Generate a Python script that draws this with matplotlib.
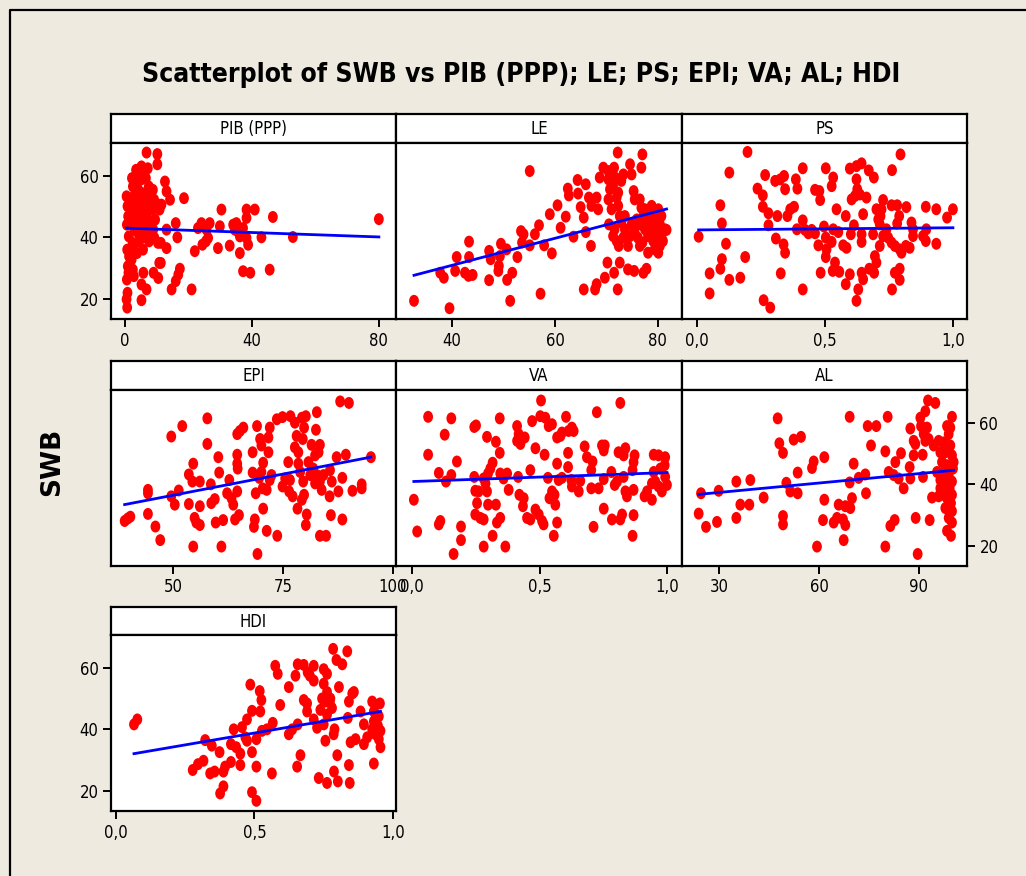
import matplotlib
matplotlib.use("Agg")
import matplotlib.pyplot as plt
import numpy as np
from matplotlib.path import Path
from matplotlib.lines import Line2D

plt.rcParams['font.family'] = ['DejaVu Sans']
plt.rcParams['font.stretch'] = 'condensed'

# ---------------- data ----------------
panel_titles = ["PIB (PPP)", "LE", "PS", "EPI", "VA", "AL", "HDI"]

pib_x = [0.5,0.8,1.0,0.6,1.2,0.7,1.3,0.9,1.1,0.6,0.8,0.5,0.7,
         2.2,2.5,2.8,2.0,2.6,2.3,2.9,2.4,2.7,2.1,2.5,2.8,
         3.5,4.0,3.8,4.2,3.6,4.4,3.9,4.1,3.7,4.3,3.8,
         5.2,5.5,5.0,5.8,5.3,5.6,5.1,5.9,5.4,5.7,5.8,5.2,5.2,
         6.8,7.2,6.6,7.5,7.0,7.8,6.9,7.4,7.1,7.6,6.8,
         8.8,9.2,8.6,9.5,8.9,9.3,9.0,
         10.2,10.2,10.6,10.9,10.4,10.8,10.5,
         12.6,13.1,14.2,11.5,13.1,13.1,11.3,11.3,
         14.7,16.0,16.5,17.3,16.8,16.0,18.6,21.0,
         22.0,23.0,24.1,24.4,25.7,26.7,26.2,25.5,29.3,29.9,30.4,
         33.0,34.1,35.1,34.6,35.6,37.2,36.2,38.3,38.8,36.2,37.2,39.5,38.3,38.3,
         40.9,43.0,46.6,45.6,52.9,80.0]
pib_y = [53.3,50.1,46.8,44.1,40.3,36.0,33.8,30.6,28.5,26.3,22.0,19.9,17.2,
         59.2,56.5,53.3,51.1,49.0,45.7,43.0,38.2,36.0,32.8,29.5,27.4,
         61.9,60.3,58.1,55.4,52.2,49.5,46.8,43.6,41.9,38.7,34.9,
         63.0,60.8,58.7,54.3,51.1,47.9,44.6,42.5,39.8,36.0,28.5,24.7,19.6,
         67.5,62.4,59.2,56.5,53.3,50.1,46.8,44.1,41.4,38.7,23.1,
         55.4,52.2,49.0,45.7,42.5,39.8,28.5,
         67.0,63.7,50.6,49.0,38.2,31.7,26.8,
         58.1,54.9,52.2,50.6,42.5,36.5,38.2,31.7,
         23.1,44.6,40.0,29.8,27.9,25.8,52.7,23.1,
         35.5,43.0,44.6,37.6,42.5,44.6,39.8,38.7,36.5,43.6,49.0,
         37.3,44.1,44.6,42.5,41.9,43.0,40.3,39.8,37.6,34.9,29.0,28.5,49.0,46.3,
         49.0,40.0,46.6,29.5,40.1,45.9]

le_x = [75.9,76.5,77.2,77.5,77.8,78.1,78.4,78.8,79.1,79.4,79.7,80.1,80.4,80.7,81.0,
        80.4,79.4,78.1,78.8,80.1,77.5,77.0,76.5,75.5,76.1,81.4,81.7,80.1,79.1,80.7,
        70.5,71.6,72.0,72.4,72.9,73.6,73.3,74.2,74.6,74.9,71.3,73.6,
        68.7,69.4,70.4,71.5,71.7,72.2,70.4,70.7,70.4,71.0,72.3,72.3,72.6,72.9,73.3,
        74.6,74.9,76.8,77.0,75.3,75.5,76.5,76.8,71.3,72.0,
        74.2,75.4,77.2,77.8,70.2,69.7,71.5,72.2,72.6,67.8,68.1,65.6,67.0,
        66.6,67.1,68.1,68.4,64.4,64.5,65.0,66.0,65.6,66.0,62.5,62.7,63.6,62.1,
        61.1,60.5,59.0,59.4,57.9,57.2,56.1,56.9,55.1,55.1,53.4,53.9,53.6,52.7,
        51.3,51.7,50.7,50.6,49.5,49.3,49.1,49.0,47.2,47.5,47.2,44.0,43.2,42.5,
        43.3,43.3,40.9,40.6,38.4,37.7,39.5,32.6]
le_y = [45.8,44.2,46.9,42.6,45.3,40.4,47.5,43.7,38.8,45.8,41.5,37.7,44.2,40.4,38.8,
        37.2,36.1,35.0,50.2,49.1,49.1,38.3,37.2,41.5,39.9,42.6,42.4,35.0,42.6,46.9,
        44.2,42.6,38.8,37.2,44.8,42.6,39.9,37.2,40.4,44.2,40.4,46.9,
        59.4,62.6,61.5,62.6,59.4,67.5,58.8,55.6,52.3,49.1,54.5,50.2,46.9,58.3,60.4,
        63.7,60.4,62.6,66.9,55.0,52.3,52.3,49.6,56.6,52.9,
        29.6,29.1,28.5,29.8,31.8,26.9,28.5,23.1,31.8,23.1,24.8,23.1,37.2,
        52.9,50.2,52.9,49.1,58.6,54.2,49.8,57.2,46.4,41.7,55.8,53.6,40.2,46.7,
        43.1,50.4,47.5,34.8,37.4,21.7,41.0,43.9,37.4,61.5,42.0,41.0,38.3,33.6,
        19.4,28.5,26.2,36.1,37.9,33.9,30.7,29.1,26.1,32.9,35.6,27.8,27.5,28.5,
        33.6,38.6,33.6,29.1,26.9,28.5,17.0,19.4]

ps_x = [0.006,0.049,0.049,0.091,0.097,0.113,0.097,0.091,0.126,0.126,0.169,0.188,0.197,
        0.236,0.257,0.257,0.266,0.279,0.279,0.26,0.286,0.308,0.305,0.325,0.34,0.344,
        0.314,0.338,0.344,0.327,0.353,0.364,0.379,0.386,0.392,0.413,0.39,0.413,0.422,
        0.435,0.448,0.461,0.413,0.461,0.478,0.481,0.474,0.483,0.496,0.503,0.506,0.503,
        0.503,0.532,0.526,0.545,0.532,0.552,0.526,0.539,0.53,0.556,0.581,0.571,0.584,
        0.597,0.623,0.643,0.623,0.626,0.617,0.604,0.636,0.662,0.613,0.601,0.643,0.643,
        0.581,0.597,0.63,0.623,0.649,0.643,0.649,0.671,0.691,0.673,0.692,0.688,0.695,
        0.701,0.714,0.717,0.721,0.701,0.727,0.714,0.727,0.747,0.762,0.795,0.76,0.782,
        0.818,0.79,0.782,0.76,0.773,0.792,0.799,0.816,0.831,0.762,0.773,0.792,0.792,
        0.844,0.844,0.838,0.894,0.883,0.894,0.896,0.935,0.935,0.977,1.0,0.74,0.708]
ps_y = [40.2,28.3,21.8,50.4,44.5,37.9,32.9,29.8,61.0,26.2,26.9,33.6,67.7,
        55.8,53.6,49.9,60.2,47.8,43.9,19.6,17.2,39.6,58.3,58.8,59.9,55.6,
        46.9,37.7,35.0,28.3,46.9,49.1,49.9,58.8,55.8,62.4,42.6,45.5,42.4,
        41.3,42.4,41.3,23.1,55.4,55.0,52.1,37.4,28.5,43.5,39.9,36.1,33.6,
        62.4,59.4,56.6,49.1,42.6,41.7,38.5,31.8,29.1,28.8,46.9,37.4,36.6,
        62.3,63.1,64.0,58.8,55.6,53.4,52.3,53.9,52.9,43.9,41.0,41.0,38.5,
        24.8,28.0,23.1,19.4,47.5,28.5,26.4,61.7,59.4,29.8,28.5,41.0,33.9,
        31.8,44.2,46.9,49.1,49.1,52.1,37.2,40.4,39.9,61.8,66.9,50.4,50.4,
        49.8,46.9,44.5,38.3,37.2,36.1,35.0,37.2,36.6,23.1,28.5,29.8,26.2,
        42.6,40.4,44.8,49.9,40.4,38.8,42.6,49.1,37.9,46.4,49.1,42.6,45.8]

epi_x = [39.0,39.7,40.3,44.3,44.3,44.3,46.0,47.1,49.6,49.6,50.4,51.3,52.1,53.6,53.6,
         54.6,54.4,54.6,54.9,55.3,56.1,56.1,56.1,57.8,57.8,58.6,58.7,59.5,59.7,60.3,
         60.5,61.0,61.4,62.8,62.3,63.3,63.7,64.1,65.0,64.6,65.2,66.0,64.6,64.6,64.7,
         64.6,68.1,68.1,69.1,68.8,68.6,68.4,69.2,69.8,70.1,70.5,70.1,69.6,70.5,71.3,
         70.4,71.3,71.7,71.7,72.0,72.4,72.0,73.6,74.9,76.7,73.7,74.9,75.5,76.2,76.6,
         76.4,77.2,77.7,78.1,77.7,78.5,79.3,80.2,79.8,79.5,78.5,78.9,79.3,79.8,78.3,
         79.6,80.4,80.2,82.7,82.5,81.5,82.3,83.1,83.4,81.9,82.7,83.4,84.2,85.7,86.1,
         82.3,83.8,85.6,83.4,84.8,85.9,87.2,87.6,88.0,90.0,88.5,88.5,89.3,90.8,92.9,
         92.9,95.0,80.8,81.2]
epi_y = [28.1,28.9,29.5,38.2,37.1,30.4,26.3,21.9,55.5,36.1,33.4,38.0,58.9,33.6,43.2,
         46.7,40.9,19.8,29.1,27.6,26.8,32.9,40.9,61.4,53.1,40.0,33.9,35.2,27.6,48.8,
         43.8,19.8,28.4,41.4,37.1,35.5,33.4,28.6,30.0,56.3,57.3,58.4,49.6,46.7,45.1,
         37.7,50.4,43.8,58.9,37.1,28.6,26.2,17.4,54.7,52.6,47.0,44.0,42.1,32.1,24.9,
         38.7,38.2,55.2,50.4,58.4,43.0,41.4,61.1,61.8,62.1,23.3,39.3,41.9,47.2,41.4,
         37.7,36.1,60.0,55.7,52.0,50.4,61.6,62.1,58.4,54.7,46.7,44.0,35.0,36.6,32.1,
         40.9,30.2,26.8,63.4,57.7,52.8,49.4,50.4,52.8,45.1,43.0,40.9,43.0,44.6,40.9,
         40.3,38.2,36.1,23.3,23.3,30.0,48.8,37.7,66.9,66.4,42.1,28.6,49.6,37.9,40.0,
         38.7,48.8,47.2,43.0]

va_x = [0.007,0.02,0.063,0.063,0.105,0.111,0.105,0.128,0.133,0.154,0.154,0.163,0.176,
        0.192,0.192,0.244,0.251,0.244,0.248,0.255,0.248,0.261,0.268,0.281,0.281,0.281,
        0.288,0.298,0.307,0.316,0.294,0.298,0.294,0.316,0.329,0.329,0.333,0.346,0.344,
        0.344,0.346,0.359,0.373,0.379,0.366,0.412,0.418,0.412,0.431,0.442,0.425,0.416,
        0.421,0.438,0.435,0.451,0.464,0.484,0.497,0.51,0.516,0.464,0.471,0.484,0.506,
        0.503,0.523,0.536,0.549,0.52,0.533,0.539,0.549,0.562,0.559,0.556,0.569,0.569,
        0.582,0.588,0.604,0.569,0.575,0.588,0.614,0.627,0.634,0.612,0.612,0.625,0.627,
        0.654,0.66,0.677,0.686,0.708,0.703,0.703,0.732,0.712,0.725,0.745,0.756,0.752,
        0.752,0.752,0.782,0.784,0.795,0.804,0.817,0.81,0.837,0.83,0.83,0.837,0.843,
        0.869,0.824,0.817,0.865,0.869,0.869,0.873,0.865,0.912,0.922,0.941,0.948,0.967,
        0.993,0.991,0.948,0.954,0.967,0.98,0.993,1.0,0.941,0.974]
va_y = [35.0,24.7,61.9,49.6,43.7,28.1,27.0,56.1,40.9,43.0,61.4,17.4,47.4,
        26.3,21.9,58.6,59.1,42.4,37.9,33.9,30.2,37.7,29.1,28.6,19.8,41.9,
        40.3,43.5,45.1,47.0,55.4,33.4,37.7,23.3,53.8,33.4,27.6,29.1,61.4,
        50.2,43.5,41.9,43.5,38.2,19.8,58.9,56.3,54.1,54.7,55.2,53.1,42.4,
        36.6,35.5,32.9,29.1,28.6,31.8,30.2,28.1,27.0,44.6,60.5,51.7,67.2,
        62.1,61.6,58.9,59.5,49.6,42.1,35.5,37.7,33.4,36.6,23.3,27.6,55.2,
        55.7,56.8,61.9,46.7,41.4,42.1,57.3,58.4,57.3,50.2,45.6,41.4,39.3,
        37.7,41.1,52.3,48.8,47.4,44.6,38.7,38.7,26.2,63.4,52.6,52.6,51.0,
        41.7,32.1,44.0,28.6,39.8,40.9,66.4,50.4,51.7,49.4,42.4,37.7,36.1,
        38.2,30.2,28.6,23.3,30.0,47.2,49.4,44.6,36.1,37.7,35.0,49.6,49.4,
        48.8,46.2,44.0,40.9,39.3,37.7,42.4,39.8,40.3,45.1]

al_x = [23.9,24.6,26.1,29.4,29.9,35.2,35.2,36.4,39.1,39.4,43.4,47.6,48.1,49.2,49.2,
        49.2,50.2,51.4,53.6,52.4,54.6,53.6,57.9,58.4,59.4,61.2,61.6,61.6,64.4,65.4,
        67.2,67.9,65.9,67.9,69.4,69.9,67.4,69.2,69.2,70.4,71.9,73.9,74.1,74.6,77.2,
        75.6,79.9,79.9,80.6,80.9,82.9,82.4,83.9,85.4,81.4,82.7,84.6,87.4,88.4,88.9,
        87.2,87.4,88.4,89.0,89.6,90.4,91.9,92.7,94.9,90.6,91.4,92.4,92.9,91.9,91.1,
        91.2,93.2,93.9,94.4,95.9,96.4,
        99.9,98.4,99.4,98.9,97.4,99.4,97.9,99.9,96.9,98.4,100.2,97.4,98.9,96.4,99.9,
        97.9,99.2,96.9,99.9,98.4,95.9,99.6,97.9,99.9,98.9,99.9,98.4,99.6,95.4,97.4,
        100.4,96.4]
al_y = [30.5,37.1,26.2,27.8,37.9,40.9,29.1,33.4,33.4,41.4,35.7,61.4,53.3,50.2,29.7,
        27.0,40.5,37.7,37.1,54.5,55.4,43.8,45.3,47.4,19.8,28.4,48.8,35.0,27.6,29.1,
        28.6,26.8,33.4,32.9,32.3,35.5,21.9,61.9,40.6,46.7,42.1,43.2,37.1,58.9,58.9,
        52.6,50.7,19.8,61.9,44.0,47.2,43.0,41.9,38.7,26.5,28.4,50.1,58.1,54.1,53.1,
        45.6,41.9,49.4,29.1,17.4,61.6,63.7,67.2,66.4,58.9,56.3,58.4,54.7,54.1,49.6,
        42.4,28.4,35.7,52.6,54.1,50.4,
        61.9,58.9,58.4,56.3,53.6,52.6,50.4,49.4,47.2,46.2,45.1,44.0,43.0,41.4,40.9,
        39.8,38.7,37.7,36.6,35.5,36.1,33.9,32.3,31.3,29.1,27.6,24.9,23.3,44.0,36.6,
        47.2,38.7]

hdi_x = [0.065,0.077,0.277,0.296,0.316,0.322,0.34,0.356,0.346,0.374,0.376,0.388,0.388,
         0.394,0.415,0.425,0.415,0.434,0.449,0.449,0.455,0.473,0.467,0.473,0.485,0.491,
         0.491,0.491,0.507,0.507,0.507,0.519,0.525,0.521,0.527,0.545,0.563,0.566,0.575,
         0.584,0.593,0.624,0.624,0.636,0.648,0.654,0.656,0.656,0.678,0.666,0.678,0.69,
         0.69,0.692,0.70,0.714,0.714,0.714,0.726,0.732,0.738,0.744,0.75,0.762,0.75,
         0.762,0.756,0.762,0.756,0.762,0.774,0.78,0.786,0.789,0.784,0.787,0.796,0.817,
         0.799,0.801,0.805,0.835,0.837,0.841,0.853,0.859,0.841,0.844,0.847,0.865,0.883,
         0.895,0.895,0.907,0.931,0.925,0.937,0.953,0.931,0.949,0.931,0.946,0.955,0.937,
         0.949,0.955,0.925,0.772,0.75]
hdi_y = [41.6,43.2,26.8,28.7,29.8,36.5,25.7,26.3,34.7,32.6,19.2,21.5,26.3,
         27.9,29.4,40.0,35.2,34.2,32.1,28.4,40.7,43.2,37.4,36.3,54.5,46.0,
         32.6,19.6,16.8,36.8,27.9,52.4,49.5,45.8,39.5,40.0,25.7,42.1,60.6,
         58.0,47.9,53.7,38.4,40.0,57.4,27.9,41.6,61.1,60.9,31.6,49.5,48.4,
         45.8,58.5,57.4,60.6,55.8,43.2,40.5,24.2,46.3,50.0,59.5,58.0,54.8,
         52.1,49.0,44.8,36.3,22.6,50.0,46.9,38.4,40.0,66.1,26.3,62.5,61.1,
         31.6,23.1,53.7,65.3,43.7,49.0,51.6,52.1,28.4,22.6,35.8,36.8,45.8,
         41.6,35.2,37.4,28.9,49.0,47.9,48.4,45.8,44.2,42.6,41.1,39.5,38.4,
         36.8,34.2,40.0,49.0,41.6]

panel_x = [pib_x, le_x, ps_x, epi_x, va_x, al_x, hdi_x]
panel_y = [pib_y, le_y, ps_y, epi_y, va_y, al_y, hdi_y]

# regression lines: intercept, slope
fit_intercepts = [43.0, 13.4, 42.4, 22.7, 40.9, 34.3, 31.1]
fit_slopes = [-0.036, 0.438, 0.7, 0.275, 2.9, 0.102, 15.4]

x_limits = [(-4.4, 85.4), (29.1, 84.7), (-0.059, 1.055), (35.9, 100.7),
            (-0.063, 1.059), (18.9, 104.4), (-0.018, 1.011)]
x_ticks = [[0, 40, 80], [40, 60, 80], [0.0, 0.5, 1.0], [50, 75, 100],
           [0.0, 0.5, 1.0], [30, 60, 90], [0.0, 0.5, 1.0]]
x_tick_labels = [["0", "40", "80"], ["40", "60", "80"], ["0,0", "0,5", "1,0"],
                 ["50", "75", "100"], ["0,0", "0,5", "1,0"], ["30", "60", "90"],
                 ["0,0", "0,5", "1,0"]]
y_ticks = [20, 40, 60]
y_tick_labels = ["20", "40", "60"]
y_limits = (13.5, 70.6)

# ---------------- figure ----------------
W, H = 1026, 876
BG = '#EEEAE0'
fig = plt.figure(figsize=(W / 100, H / 100), dpi=100)
fig.patch.set_facecolor(BG)

def fr(x0, y0, x1, y1):
    return [x0 / W, 1 - y1 / H, (x1 - x0) / W, (y1 - y0) / H]

# outer frame (left and top edges)
fig.add_artist(Line2D([10 / W, 10 / W, 1.0], [0.0, 1 - 10 / H, 1 - 10 / H],
                      transform=fig.transFigure, color='black', lw=1.6))

fig.text(521 / W, 1 - 75 / H, "Scatterplot of SWB vs PIB (PPP); LE; PS; EPI; VA; AL; HDI",
         ha='center', va='center', fontsize=19, fontweight='bold')
fig.text(52 / W, 1 - 462 / H, "SWB", rotation=90, ha='center', va='center',
         fontsize=19, fontweight='bold', fontstretch='normal')

cols = [(111, 396), (396, 682), (682, 967)]
rows = [(114, 143, 319), (361, 390, 566), (607, 635, 811)]

circ = Path.unit_circle()
ellipse = Path(circ.vertices * np.array([0.82, 1.0]), circ.codes)

for i in range(7):
    r, c = divmod(i, 3)
    x0, x1 = cols[c]
    ys, yp, yb = rows[r]
    # strip
    sax = fig.add_axes(fr(x0, ys, x1, yp))
    sax.set_facecolor('white')
    sax.set_xticks([]); sax.set_yticks([])
    for s in sax.spines.values():
        s.set_linewidth(1.6)
    sax.text(0.5, 0.48, panel_titles[i], ha='center', va='center', fontsize=12,
             transform=sax.transAxes)
    # plot
    ax = fig.add_axes(fr(x0, yp, x1, yb))
    ax.set_facecolor('white')
    ax.scatter(panel_x[i], panel_y[i], marker=ellipse, s=74, color='#FF0000',
               edgecolors='none', zorder=3)
    xs = np.array([min(panel_x[i]), max(panel_x[i])])
    ax.plot(xs, fit_intercepts[i] + fit_slopes[i] * xs, color='#0000FF', lw=2, zorder=4)
    ax.set_xlim(*x_limits[i])
    ax.set_ylim(*y_limits)
    ax.set_xticks(x_ticks[i])
    ax.set_xticklabels(x_tick_labels[i])
    for s in ax.spines.values():
        s.set_linewidth(1.6)
    ax.tick_params(axis='both', direction='out', length=6, width=1.4, labelsize=12,
                   pad=3)
    ax.set_yticks(y_ticks)
    if r == 1:
        if c == 2:
            ax.yaxis.tick_right()
            ax.set_yticklabels(y_tick_labels)
        else:
            ax.tick_params(axis='y', left=False, labelleft=False)
    else:
        if c == 0:
            ax.set_yticklabels(y_tick_labels)
        else:
            ax.tick_params(axis='y', left=False, labelleft=False)

fig.savefig("out.png", dpi=100, facecolor=BG)
